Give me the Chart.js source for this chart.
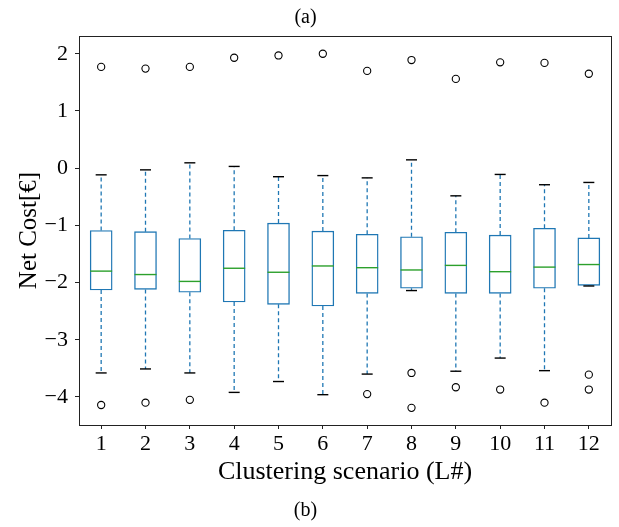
<!DOCTYPE html>
<html>
<head>
<meta charset="utf-8">
<script src="https://cdn.jsdelivr.net/npm/chart.js@4/dist/chart.umd.min.js"></script>
<style>
html,body{margin:0;padding:0;background:#fff;}
#wrap{width:619px;height:527px;}
</style>
</head>
<body>
<div id="wrap"><canvas id="c" width="619" height="527"></canvas></div>
<script>
const categories = [1, 2, 3, 4, 5, 6, 7, 8, 9, 10, 11, 12];
const q1 = [-2.13, -2.12, -2.17, -2.34, -2.38, -2.41, -2.19, -2.10, -2.19, -2.19, -2.10, -2.05];
const medians = [-1.80, -1.86, -1.98, -1.75, -1.82, -1.71, -1.74, -1.78, -1.70, -1.81, -1.73, -1.685];
const q3 = [-1.09, -1.11, -1.23, -1.085, -0.96, -1.10, -1.155, -1.20, -1.12, -1.17, -1.05, -1.22];
const whiskerLow = [-3.58, -3.51, -3.58, -3.92, -3.73, -3.96, -3.60, -2.14, -3.55, -3.32, -3.54, -2.06];
const whiskerHigh = [-0.117, -0.03, 0.093, 0.03, -0.15, -0.13, -0.17, 0.145, -0.484, -0.11, -0.29, -0.25];
const outliers = [
  [1.77, -4.14], [1.74, -4.10], [1.77, -4.05], [1.93], [1.97], [2.00],
  [1.70, -3.95], [1.89, -3.58, -4.19], [1.56, -3.83], [1.85, -3.87], [1.84, -4.10], [1.65, -3.61, -3.87]
];
const yTicks = [-4, -3, -2, -1, 0, 1, 2];
const xTicks = categories;

const FONT = "'Liberation Serif', 'Times New Roman', serif";
const BLUE = '#1f77b4';

const boxData = categories.map((c, i) => ({x: c, y: [q1[i], q3[i]]}));
const whiskerData = [];
categories.forEach((c, i) => {
  whiskerData.push({x: c, y: q3[i]}, {x: c, y: whiskerHigh[i]}, {x: c, y: null});
  whiskerData.push({x: c, y: q1[i]}, {x: c, y: whiskerLow[i]}, {x: c, y: null});
});
const capData = [];
categories.forEach((c, i) => { capData.push({x: c, y: whiskerLow[i]}, {x: c, y: whiskerHigh[i]}); });
const medianData = categories.map((c, i) => ({x: c, y: medians[i]}));
const flierData = [];
categories.forEach((c, i) => outliers[i].forEach(v => flierData.push({x: c, y: v})));

const framePlugin = {
  id: 'frame',
  afterDraw(chart) {
    const {ctx, chartArea: a} = chart;
    ctx.save();
    ctx.strokeStyle = '#222';
    ctx.lineWidth = 1;
    ctx.strokeRect(Math.round(a.left) + 0.5, Math.round(a.top) + 0.5, Math.round(a.right - a.left), Math.round(a.bottom - a.top));
    ctx.restore();
  }
};

new Chart(document.getElementById('c'), {
  type: 'bar',
  data: {
    datasets: [
      {
        type: 'line', data: whiskerData, borderColor: BLUE, borderWidth: 1.3,
        borderDash: [4, 3], pointRadius: 0, spanGaps: false, fill: false, order: 3
      },
      {
        type: 'bar', data: boxData, backgroundColor: 'rgba(255,255,255,1)', borderColor: BLUE,
        borderWidth: 1.4, borderSkipped: false, barThickness: 22, order: 2
      },
      {
        type: 'scatter', data: capData, pointStyle: 'line', pointRadius: 5.5,
        borderColor: '#000', borderWidth: 1.4, order: 1
      },
      {
        type: 'scatter', data: medianData, pointStyle: 'line', pointRadius: 11,
        borderColor: '#2ca02c', borderWidth: 1.4, order: 1
      },
      {
        type: 'scatter', data: flierData, pointStyle: 'circle', pointRadius: 3.6,
        borderColor: '#000', backgroundColor: 'rgba(0,0,0,0)', borderWidth: 1.1, order: 0
      }
    ]
  },
  options: {
    responsive: false,
    animation: false,
    events: [],
    layout: {autoPadding: false, padding: {left: 0, right: 8, top: 0, bottom: 0}},
    plugins: {
      legend: {display: false},
      tooltip: {enabled: false},
      title: {
        display: true, text: '(a)', color: '#000',
        font: {family: FONT, size: 20, weight: 'normal'},
        padding: {top: 6, bottom: 6}
      },
      subtitle: {
        display: true, text: '(b)', position: 'bottom', color: '#000',
        font: {family: FONT, size: 20, weight: 'normal'},
        padding: {top: 0, bottom: 4}
      }
    },
    scales: {
      x: {
        type: 'linear', min: 0.5, max: 12.5, offset: false,
        afterBuildTicks: s => { s.ticks = xTicks.map(v => ({value: v})); },
        afterFit: s => { s.height = 74; s.paddingLeft = 0; s.paddingRight = 0; },
        grid: {display: true, drawOnChartArea: false, drawTicks: true, tickLength: 4, color: '#222', offset: false},
        border: {display: true, color: '#222'},
        ticks: {color: '#000', font: {family: FONT, size: 22}, padding: 2, maxRotation: 0, autoSkip: false},
        title: {display: true, text: 'Clustering scenario (L#)', color: '#000',
          font: {family: FONT, size: 26}, padding: {top: 0, bottom: 11}}
      },
      y: {
        type: 'linear', min: -4.49, max: 2.31,
        afterBuildTicks: s => { s.ticks = yTicks.map(v => ({value: v})); },
        afterFit: s => { s.width = 79; s.paddingTop = 0; s.paddingBottom = 0; },
        grid: {display: true, drawOnChartArea: false, drawTicks: true, tickLength: 4, color: '#222'},
        border: {display: true, color: '#222'},
        ticks: {color: '#000', font: {family: FONT, size: 22}, padding: 7,
          callback: v => v < 0 ? '\u2212' + Math.abs(v) : String(v)},
        title: {display: true, text: 'Net Cost[€]', color: '#000',
          font: {family: FONT, size: 25}, padding: {top: 14, bottom: 0}}
      }
    }
  },
  plugins: [framePlugin]
});
</script>
</body>
</html>
